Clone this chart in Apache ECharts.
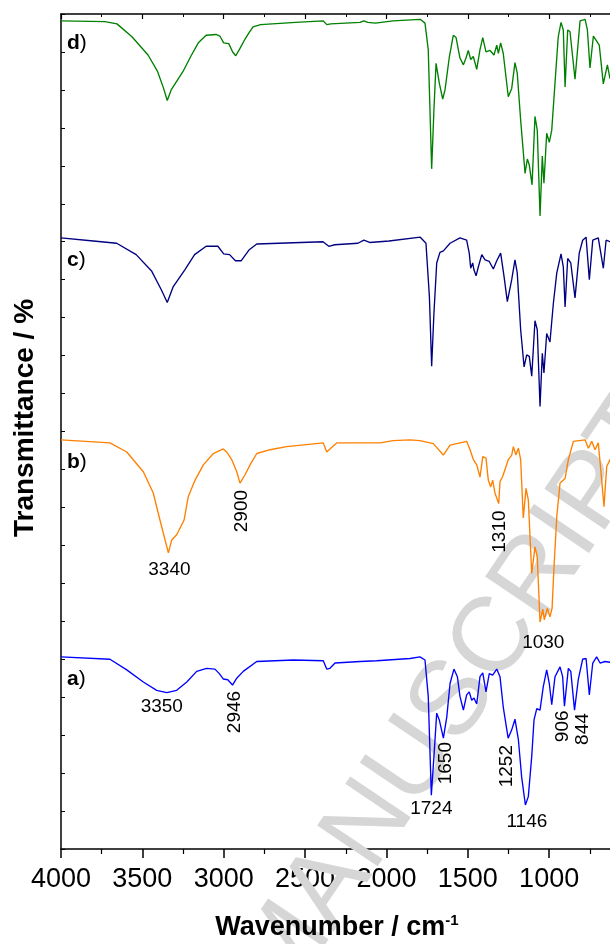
<!DOCTYPE html>
<html>
<head>
<meta charset="utf-8">
<script src="https://cdn.jsdelivr.net/npm/echarts@6/dist/echarts.min.js"></script>
<style>
  html, body { margin: 0; padding: 0; background: #fff; }
  #chart { width: 610px; height: 944px; }
</style>
</head>
<body>
<div id="chart"></div>
<script>
// FTIR spectra, stacked with vertical offsets (wavenumber in cm-1, transmittance in %).
const wnD = [4000,3730,3656,3564,3465,3406,3371,3347,3323,3251,3203,3156,3108,3047,3024,3000,2969,2945,2926,2904,2869,2845,2820,2773,2558,2390,2366,2342,2162,2139,2115,2067,1960,1792,1783,1763,1743,1722,1708,1695,1675,1654,1640,1613,1589,1572,1548,1527,1511,1497,1482,1466,1445,1425,1408,1388,1363,1339,1322,1312,1298,1282,1251,1230,1210,1196,1175,1148,1134,1122,1105,1087,1073,1056,1042,1032,1015,999,984,964,944,927,913,902,886,872,841,810,779,765,749,728,692,667,642,626,600];
const tD  = [109.1,109.0,108.7,107.0,104.6,102.4,100.3,98.6,100.0,102.4,104.4,106.2,107.2,107.3,107.1,106.2,106.1,105.0,104.5,105.3,106.7,107.5,108.3,108.6,108.9,109.1,108.6,108.7,108.9,109.1,108.9,108.8,109.1,109.3,109.1,108.8,105.3,89.6,97.4,103.5,100.9,98.8,100.0,104.4,107.2,106.9,104.2,103.3,104.2,105.2,104.0,104.4,102.7,105.3,106.9,105.0,105.2,104.6,105.9,104.8,106.2,104.8,99.1,100.2,103.6,102.2,96.0,89.0,90.9,90.1,87.5,96.5,94.7,83.4,91.3,87.7,94.3,93.1,94.7,100.9,107.0,108.9,107.9,100.4,107.9,107.7,101.4,109.1,109.3,107.9,102.9,107.1,105.9,100.8,103.3,101.5,102.5];

const wnC = [4000,3801,3658,3538,3442,3382,3347,3310,3239,3179,3108,3036,3000,2964,2928,2892,2845,2797,2390,2354,2318,2175,2139,2103,1984,1792,1783,1757,1736,1722,1708,1691,1671,1650,1609,1548,1507,1491,1482,1470,1462,1449,1435,1414,1394,1368,1343,1322,1298,1277,1257,1230,1210,1196,1175,1154,1138,1122,1107,1087,1073,1056,1042,1032,1015,995,974,953,927,913,902,886,867,841,815,794,773,753,732,698,667,650,626,600];
const tC  = [80.5,80.1,79.8,78.3,76.1,73.6,72.0,74.1,76.3,78.3,79.4,79.4,78.4,78.3,77.5,77.5,78.9,79.7,80.0,79.4,79.6,79.8,80.2,79.9,80.1,80.6,80.5,79.8,72.8,63.6,70.6,77.2,78.6,78.8,79.8,80.5,80.2,78.5,76.5,77.2,76.3,75.5,76.7,78.3,77.6,77.4,76.4,77.5,78.5,75.4,72.1,75.0,77.6,75.9,68.4,63.5,65.1,64.9,62.3,69.6,68.4,58.3,65.3,62.7,67.9,66.8,71.9,75.9,78.4,76.7,71.4,77.8,77.2,72.6,78.5,80.2,80.6,75.0,80.2,80.5,76.5,80.2,80.0,80.0];

const wnB = [4000,3699,3596,3494,3433,3402,3371,3340,3320,3289,3244,3218,3176,3125,3064,3003,2982,2951,2920,2900,2869,2838,2797,2715,2613,2388,2367,2342,2306,2039,1958,1855,1794,1712,1650,1609,1507,1486,1466,1445,1425,1408,1388,1374,1359,1347,1333,1322,1310,1302,1285,1265,1251,1230,1220,1204,1189,1175,1159,1142,1128,1107,1087,1073,1056,1039,1030,1011,995,982,970,953,933,902,882,851,779,759,738,718,698,677,663,646,626,600];
const tB  = [53.9,53.5,52.3,49.7,46.9,44.2,41.6,39.0,40.7,41.4,43.3,46.4,48.6,50.6,52.1,52.7,52.3,51.3,49.7,48.2,49.3,50.6,52.1,52.6,53.0,53.5,52.3,52.8,53.5,53.5,53.8,53.9,53.8,53.4,51.9,53.2,53.7,52.6,51.3,50.6,49.0,51.7,51.5,48.6,47.7,48.6,46.9,47.1,45.5,48.4,49.1,50.4,51.3,51.9,53.0,51.9,52.8,51.3,43.6,47.5,46.0,36.3,39.8,38.5,29.9,31.6,30.2,31.7,30.6,31.7,37.2,43.8,48.2,48.8,51.3,53.7,53.9,52.8,53.7,52.6,53.5,48.6,45.1,50.4,51.3,52.0];

const wnA = [4000,3699,3596,3494,3412,3350,3289,3227,3166,3105,3054,3027,3003,2975,2946,2920,2880,2797,2572,2388,2367,2347,2316,2162,2060,1855,1794,1763,1743,1724,1708,1691,1675,1650,1629,1609,1585,1564,1548,1527,1507,1491,1476,1462,1445,1425,1408,1388,1368,1347,1322,1302,1282,1252,1230,1210,1189,1169,1159,1146,1128,1107,1093,1076,1056,1036,1015,999,984,964,933,917,906,882,867,844,821,794,773,753,732,708,687,657,626,600];
const tA  = [25.3,25.0,23.6,22.0,20.9,20.6,20.9,22.0,23.4,23.8,23.7,23.1,22.4,22.3,21.6,22.5,23.4,24.7,24.9,24.8,23.7,23.8,24.5,24.7,24.8,25.1,25.3,24.9,20.1,7.1,12.2,17.9,17.0,14.6,17.4,21.8,23.7,22.7,20.1,18.3,20.3,20.7,19.6,19.9,19.1,22.7,23.2,20.7,23.1,22.9,23.7,22.7,18.7,14.6,15.7,17.1,14.4,9.5,9.3,5.8,6.9,12.2,17.0,18.5,18.3,21.4,23.6,21.8,19.0,22.7,24.0,22.7,18.8,23.8,23.4,18.3,22.3,25.0,25.1,20.3,24.5,25.3,24.5,24.7,24.6,24.8];

// Panel names and band positions that are annotated (cm-1)
const panelNames = ['a', 'b', 'c', 'd'];
const bandsB = [3340, 2900, 1310, 1030];
const bandsA = [3350, 2946, 1724, 1650, 1252, 1146, 906, 844];

// Axis ticks
const xMin = 500, xMax = 4000, xStep = 500;
const yMin = 0, yMax = 110, yStep = 5;

const FONT = 'Arial, "Liberation Sans", Helvetica, sans-serif';
const colors = { a: '#0000ff', b: '#ff8000', c: '#000080', d: '#008000' };

const spectra = {
  a: { wn: wnA, t: tA },
  b: { wn: wnB, t: tB },
  c: { wn: wnC, t: tC },
  d: { wn: wnD, t: tD }
};
const pairs = (wn, t) => wn.map((w, i) => [w, t[i]]);

const chart = echarts.init(document.getElementById('chart'), null, { renderer: 'canvas' });

const axisBase = {
  type: 'value', inverse: true, min: xMin, max: xMax, interval: xStep,
  axisLine: { show: true, onZero: false, lineStyle: { color: '#000', width: 1.5 } },
  splitLine: { show: false }, minorSplitLine: { show: false }
};

chart.setOption({
  animation: false,
  backgroundColor: '#ffffff',
  grid: { left: 61, top: 14, right: -20.5, bottom: 95, containLabel: false, outerBoundsMode: 'none' },
  xAxis: [
    Object.assign({}, axisBase, {
      position: 'bottom',
      axisTick: { show: true, inside: false, length: 9, lineStyle: { color: '#000', width: 1.5 } },
      minorTick: { show: true, splitNumber: 2, length: 5, lineStyle: { color: '#000', width: 1.2 } },
      axisLabel: { show: true, fontSize: 27, color: '#000', fontFamily: FONT, margin: 17,
                   formatter: v => (v === xMin ? '' : String(v)) }
    }),
    Object.assign({}, axisBase, {
      position: 'top',
      axisTick: { show: true, inside: true, length: 5, lineStyle: { color: '#000', width: 1.2 } },
      minorTick: { show: true, splitNumber: 2, length: 3, lineStyle: { color: '#000', width: 1 } },
      axisLabel: { show: false }
    })
  ],
  yAxis: {
    type: 'value', min: yMin, max: yMax, interval: yStep,
    axisLine: { show: true, onZero: false, lineStyle: { color: '#000', width: 1.5 } },
    axisTick: { show: true, inside: true, length: 4, lineStyle: { color: '#000', width: 1 } },
    axisLabel: { show: false },
    splitLine: { show: false }
  },
  series: panelNames.map(k => ({
    name: k,
    type: 'line',
    xAxisIndex: 0,
    yAxisIndex: 0,
    data: pairs(spectra[k].wn, spectra[k].t),
    showSymbol: false,
    symbol: 'none',
    smooth: false,
    silent: true,
    z: 3,
    lineStyle: { color: colors[k], width: 1.35 }
  }))
});

// Annotations placed from data coordinates
const toPx = (w, v) => chart.convertToPixel({ xAxisIndex: 0, yAxisIndex: 0 }, [w, v]);
const valueAt = (k, w) => { const s = spectra[k]; return s.t[s.wn.indexOf(w)]; };

// label nudges in pixels: [dx, dy, vertical]
const bandLayoutB = [[1, 17, false], [2, 28, true], [1, 28, true], [-1, 23, false]];
const bandLayoutA = [[-5, 14, false], [2, 27, true], [0, 14, false], [2.5, 25, true],
                     [-1, 28, true], [1.5, 17, false], [-1.5, 20, true], [8, 19, true]];

const graphics = [];

function bandLabel(k, w, lay) {
  const p = toPx(w, valueAt(k, w));
  graphics.push({
    type: 'text', x: p[0] + lay[0], y: p[1] + lay[1], rotation: lay[2] ? Math.PI / 2 : 0, z: 10,
    style: { text: String(w), fill: '#000', font: '19px ' + FONT,
             textAlign: 'center', textVerticalAlign: 'middle', align: 'center', verticalAlign: 'middle' }
  });
}
bandsB.forEach((w, i) => bandLabel('b', w, bandLayoutB[i]));
bandsA.forEach((w, i) => bandLabel('a', w, bandLayoutA[i]));

// panel letters below the start of each trace
panelNames.forEach(k => {
  const p = toPx(xMax, spectra[k].t[0]);
  graphics.push({
    type: 'text', x: p[0] + 6, y: p[1] + 22, z: 10,
    style: {
      text: '{l|' + k + '}{p|)}',
      textAlign: 'left', textVerticalAlign: 'middle', align: 'left', verticalAlign: 'middle',
      rich: {
        l: { fontSize: 21, fontWeight: 'bold', fontFamily: FONT, fill: '#000', color: '#000' },
        p: { fontSize: 21, fontWeight: 'normal', fontFamily: FONT, fill: '#000', color: '#000' }
      }
    }
  });
});

// axis titles
graphics.push({
  type: 'text', x: 337, y: 928, z: 10,
  style: {
    text: '{t|Wavenumber / cm}{s|-1}',
    textAlign: 'center', textVerticalAlign: 'middle', align: 'center', verticalAlign: 'middle',
    rich: {
      t: { fontSize: 27, fontWeight: 'bold', fontFamily: FONT, fill: '#000', color: '#000', lineHeight: 30 },
      s: { fontSize: 15, fontWeight: 'bold', fontFamily: FONT, fill: '#000', color: '#000', verticalAlign: 'top', lineHeight: 30 }
    }
  }
});
graphics.push({
  type: 'text', x: 25, y: 418, rotation: Math.PI / 2, z: 10,
  style: { text: 'Transmittance / %', fill: '#000', font: 'bold 28px ' + FONT,
           textAlign: 'center', textVerticalAlign: 'middle', align: 'center', verticalAlign: 'middle' }
});

// watermark
graphics.push({
  type: 'text', x: 286, y: 950, rotation: 56 * Math.PI / 180, z: 1, silent: true,
  style: { text: 'ACCEPTED MANUSCRIPT', fill: '#d6d6d6', font: '106px ' + FONT,
           textAlign: 'center', textVerticalAlign: 'middle', align: 'center', verticalAlign: 'middle' }
});

chart.setOption({ graphic: { elements: graphics } });
</script>
</body>
</html>
